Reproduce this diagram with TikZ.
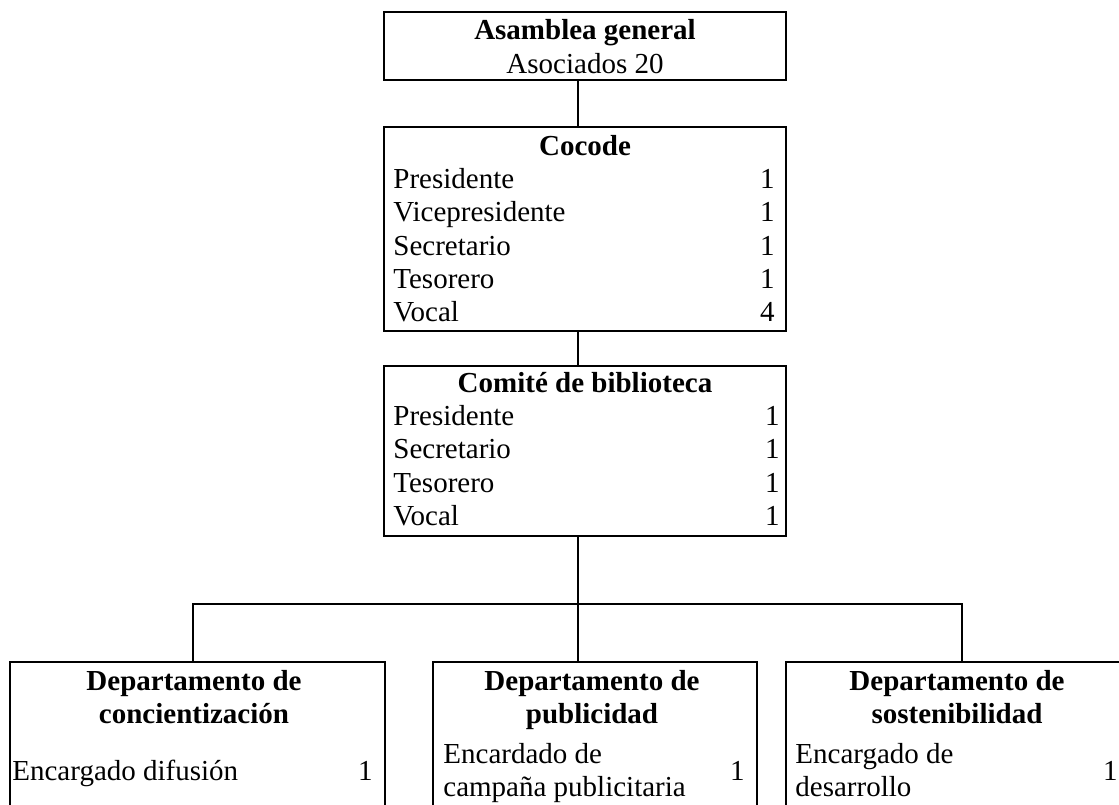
\documentclass[tikz,border=0pt]{standalone}
\usepackage{fontspec}
\setmainfont{Liberation Serif}
\usetikzlibrary{fit}
\tikzset{
  orgbox/.style={draw=black, line width=1.4pt, inner sep=0pt, rectangle},
  link/.style={draw=black, line width=1.4pt},
  txt/.style={inner sep=0pt, font=\fontsize{14.5}{16.7}\selectfont},
  ttl/.style={inner sep=0pt, font=\fontsize{14.5}{16.7}\selectfont\bfseries},
}
\begin{document}
\begin{tikzpicture}[x=0.5pt, y=-0.5pt]
\useasboundingbox (0,0) rectangle (1119,804);
\fill[white] (0,0) rectangle (1119,804);
\clip (0,0) rectangle (1119,804);

% boxes
\node[orgbox, fit={(384,12) (786,80)}] (A) {};
\node[orgbox, fit={(384,127) (786,331)}] (B) {};
\node[orgbox, fit={(384,366) (786,536)}] (C) {};
\node[orgbox, fit={(10,662) (385,840)}] (D1) {};
\node[orgbox, fit={(433,662) (757,840)}] (D2) {};
\node[orgbox, fit={(786,662) (1132,840)}] (D3) {};

% helper coordinates
\coordinate (spine) at (578,0);
\coordinate (bar) at (578,604);
\coordinate (d1x) at (193,0);
\coordinate (d3x) at (962,0);

% connectors
\draw[link] (A.south -| spine) -- (B.north -| spine);
\draw[link] (B.south -| spine) -- (C.north -| spine);
\draw[link] (C.south -| spine) -- (bar);
\draw[link] (D1.north -| d1x) -- (d1x |- bar) -- (d3x |- bar) -- (D3.north -| d3x);
\draw[link] (bar) -- (D2.north -| bar);

% Asamblea general
\node[ttl, anchor=base] (a1) at (585,39) {Asamblea general};
\node[txt, anchor=base] (a2) at (585,73) {Asociados 20};

% Cocode
\node[ttl, anchor=base] (b0) at (585,155) {Cocode};
\node[txt, anchor=base west] (b1) at (393,188) {Presidente};
\node[txt, anchor=base west] (b2) at (393,221) {Vicepresidente};
\node[txt, anchor=base west] (b3) at (393,255) {Secretario};
\node[txt, anchor=base west] (b4) at (393,288) {Tesorero};
\node[txt, anchor=base west] (b5) at (393,321) {Vocal};
\node[txt, anchor=base east] (b1n) at (775,188) {1};
\node[txt, anchor=base east] (b2n) at (775,221) {1};
\node[txt, anchor=base east] (b3n) at (775,255) {1};
\node[txt, anchor=base east] (b4n) at (775,288) {1};
\node[txt, anchor=base east] (b5n) at (775,321) {4};

% Comite de biblioteca
\node[ttl, anchor=base] (c0) at (585,392) {Comité de biblioteca};
\node[txt, anchor=base west] (c1) at (393,425) {Presidente};
\node[txt, anchor=base west] (c2) at (393,458) {Secretario};
\node[txt, anchor=base west] (c3) at (393,492) {Tesorero};
\node[txt, anchor=base west] (c4) at (393,525) {Vocal};
\node[txt, anchor=base east] (c1n) at (780,425) {1};
\node[txt, anchor=base east] (c2n) at (780,458) {1};
\node[txt, anchor=base east] (c3n) at (780,492) {1};
\node[txt, anchor=base east] (c4n) at (780,525) {1};

% Departamento de concientizacion
\node[ttl, anchor=base] (e1a) at (194,690) {Departamento de};
\node[ttl, anchor=base] (e1b) at (194,723) {concientización};
\node[txt, anchor=base west] (e1c) at (12,780) {Encargado difusión};
\node[txt, anchor=base east] (e1n) at (373,780) {1};

% Departamento de publicidad
\node[ttl, anchor=base] (e2a) at (592,690) {Departamento de};
\node[ttl, anchor=base] (e2b) at (592,723) {publicidad};
\node[txt, anchor=base west] (e2c) at (443,763) {Encardado de};
\node[txt, anchor=base west] (e2d) at (443,796) {campaña publicitaria};
\node[txt, anchor=base east] (e2n) at (745,780) {1};

% Departamento de sostenibilidad
\node[ttl, anchor=base] (e3a) at (957,690) {Departamento de};
\node[ttl, anchor=base] (e3b) at (957,723) {sostenibilidad};
\node[txt, anchor=base west] (e3c) at (795,763) {Encargado de};
\node[txt, anchor=base west] (e3d) at (795,796) {desarrollo};
\node[txt, anchor=base east] (e3n) at (1118,780) {1};
\end{tikzpicture}
\end{document}
